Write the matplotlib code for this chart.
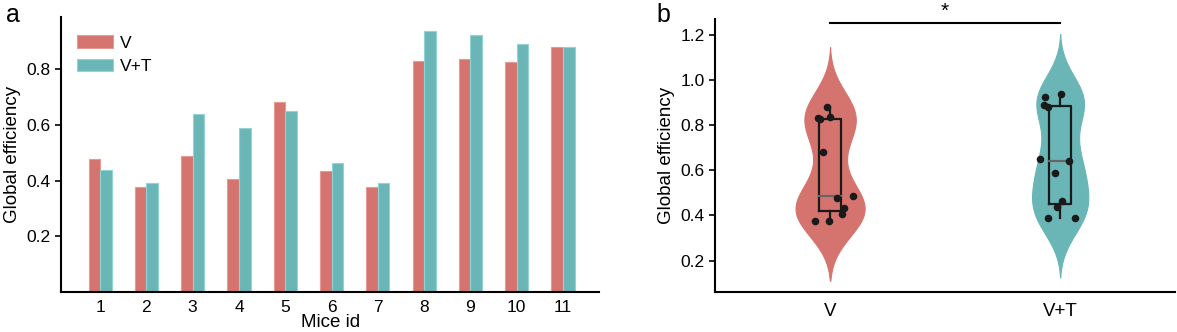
import numpy as np
import matplotlib.pyplot as plt

plt.rcParams['font.family'] = ['Liberation Sans', 'DejaVu Sans']

mice = ['1', '2', '3', '4', '5', '6', '7', '8', '9', '10', '11']
eff_v = [0.477, 0.376, 0.487, 0.406, 0.681, 0.433, 0.376, 0.830, 0.837, 0.827, 0.880]
eff_vt = [0.438, 0.390, 0.640, 0.589, 0.650, 0.463, 0.390, 0.938, 0.923, 0.890, 0.880]
groups = ['V', 'V+T']
# horizontal jitter of the points in panel b (per mouse)
jit_v = [18, -41, 61, 33, -20, 38, -4, -32, 0, -26, -7]
jit_vt = [-9, -34, 23, -13, -54, 5, 40, 3, -40, -43, -32]

c_red = '#D5736E'
c_teal = '#6AB6B7'
c_red_edge = '#E79A95'
c_teal_edge = '#94D3D3'

fig = plt.figure(figsize=(11.77, 3.32), dpi=100)

# ---------------- panel a ----------------
ax1 = fig.add_axes([0.052, 0.120, 0.457, 0.829])
x = np.arange(1, len(mice) + 1)
w = 0.25
ax1.bar(x - w / 2, eff_v, w, color=c_red, edgecolor=c_red_edge, linewidth=0.8, label='V')
ax1.bar(x + w / 2, eff_vt, w, color=c_teal, edgecolor=c_teal_edge, linewidth=0.8, label='V+T')
ax1.set_xlim(0.16, 11.78)
ax1.set_ylim(0, 0.987)
ax1.set_xticks(x)
ax1.set_xticklabels(mice)
ax1.set_yticks([0.2, 0.4, 0.6, 0.8])
ax1.set_yticklabels(['0.2', '0.4', '0.6', '0.8'])
ax1.tick_params(axis='x', length=0, labelsize=12.5, pad=6)
ax1.tick_params(axis='y', length=4, width=1.2, labelsize=12.5)
ax1.set_xlabel('Mice id', fontsize=13.5, labelpad=-1)
ax1.set_ylabel('Global efficiency', fontsize=13.5)
for s in ['top', 'right']:
    ax1.spines[s].set_visible(False)
for s in ['left', 'bottom']:
    ax1.spines[s].set_linewidth(1.5)
ax1.legend(loc='upper left', frameon=False, fontsize=12.5, handlelength=2.1, handleheight=0.75,
           handletextpad=0.4, bbox_to_anchor=(0.0, 0.99), labelspacing=0.45)
fig.text(0.005, 0.955, 'a', fontsize=18, va='center')

# ---------------- panel b ----------------
ax2 = fig.add_axes([0.6075, 0.120, 0.391, 0.823])
data = [np.array(eff_v), np.array(eff_vt)]
jits = [np.array(jit_v) / 623.0, np.array(jit_vt) / 623.0]
cols = [c_red, c_teal]
bw = 0.115
ext = 0.265
dens = []
for d in data:
    yy = np.linspace(d.min() - ext, d.max() + ext, 300)
    k = np.exp(-0.5 * ((yy[:, None] - d[None, :]) / bw) ** 2).sum(axis=1)
    k = k / (len(d) * bw * np.sqrt(2 * np.pi))
    k = k - min(k[0], k[-1])
    k = np.clip(k, 0, None) ** 1.1
    dens.append((yy, k))
kmax = max(k.max() for _, k in dens)
for i, (yy, k) in enumerate(dens):
    hw = k / kmax * 0.15
    ax2.fill_betweenx(yy, i - hw, i + hw, color=cols[i], linewidth=0.8, edgecolor=cols[i], zorder=1)

for i, d in enumerate(data):
    q1, med, q3 = np.percentile(d, [25, 50, 75])
    bh = 0.049
    ax2.plot([i - bh, i + bh, i + bh, i - bh, i - bh], [q1, q1, q3, q3, q1], color='#1a1a1a', lw=1.6, zorder=3)
    ax2.plot([i - bh, i + bh], [med, med], color='#666666', lw=1.6, zorder=3)
    ax2.plot([i, i], [d.min(), q1], color='#1a1a1a', lw=1.6, zorder=3)
    ax2.plot([i, i], [q3, d.max()], color='#1a1a1a', lw=1.6, zorder=3)
    ax2.scatter(i + jits[i], d, s=30, color='#1a1a1a', zorder=4, linewidths=0)

ax2.plot([0, 1], [1.252, 1.252], color='black', lw=1.5, clip_on=False)
ax2.text(0.5, 1.262, '*', ha='center', va='bottom', fontsize=15, clip_on=False)

ax2.set_xlim(-0.5, 1.5)
ax2.set_ylim(0.06, 1.27)
ax2.set_xticks([0, 1])
ax2.set_xticklabels(groups)
ax2.set_yticks([0.2, 0.4, 0.6, 0.8, 1.0, 1.2])
ax2.tick_params(axis='x', length=0, labelsize=13.5, pad=8)
ax2.tick_params(axis='y', length=4, width=1.2, labelsize=12.5)
ax2.set_ylabel('Global efficiency', fontsize=13.5)
for s in ['top', 'right']:
    ax2.spines[s].set_visible(False)
for s in ['left', 'bottom']:
    ax2.spines[s].set_linewidth(1.5)
fig.text(0.558, 0.955, 'b', fontsize=18, va='center')

fig.savefig('out.png', dpi=100)
